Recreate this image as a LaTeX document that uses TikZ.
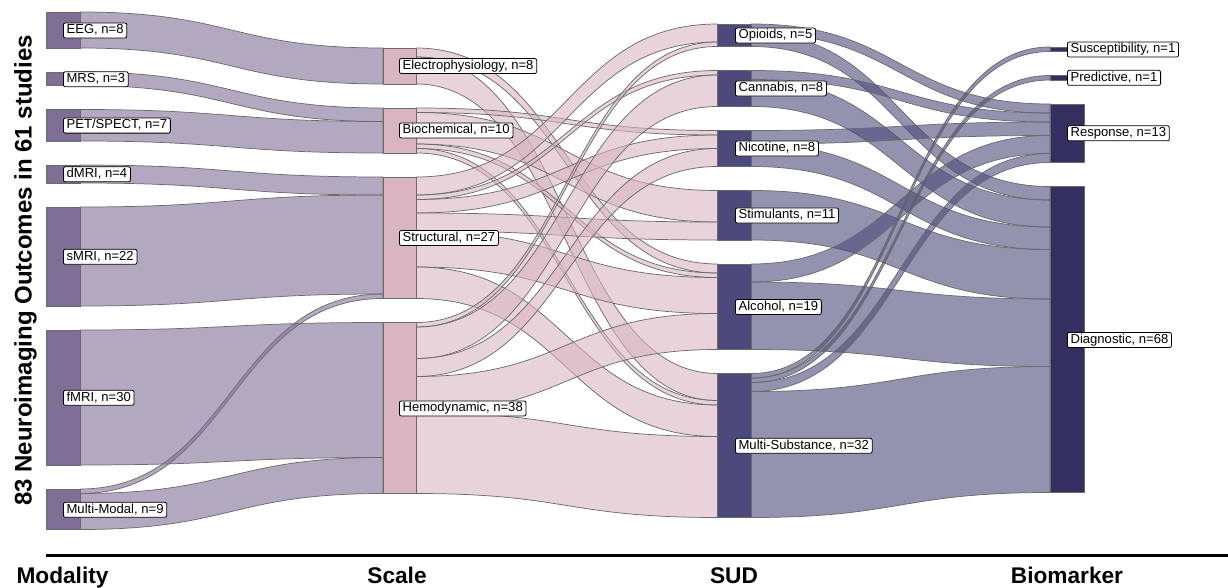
\documentclass[tikz,border=0pt]{standalone}
\usepackage{fontspec}
\setmainfont{Liberation Sans}
\definecolor{cmod}{HTML}{7F6F96}
\definecolor{cscl}{HTML}{D8B5C1}
\definecolor{csud}{HTML}{4B4A7A}
\definecolor{cbio}{HTML}{352F5F}
\definecolor{cedge}{HTML}{6B6B6B}
\tikzset{
  flow/.style={draw=cedge, line width=0.55pt, fill opacity=0.6},
  bar/.style={draw=cedge, line width=0.55pt},
  lab/.style={draw=black, fill=white, rounded corners=1.5pt, line width=0.6pt,
    font=\fontsize{9.8}{11}\selectfont, anchor=west, inner xsep=2.4pt, inner ysep=1pt,
    text height=7.2pt, text depth=2.1pt},
  axlab/.style={font=\bfseries\fontsize{17}{20}\selectfont, anchor=base}
}
\newcommand{\skflow}[7]{%
  \pgfmathsetmacro{\skm}{(#1+#2)/2}%
  \filldraw[flow, fill=#7] (#1,#3) .. controls (\skm,#3) and (\skm,#5) .. (#2,#5) -- (#2,#6) .. controls (\skm,#6) and (\skm,#4) .. (#1,#4) -- cycle;}
\newcommand{\skA}[4]{\skflow{80}{383}{#1}{#2}{#3}{#4}{cmod}}
\newcommand{\skB}[4]{\skflow{416}{717.5}{#1}{#2}{#3}{#4}{cscl}}
\newcommand{\skC}[4]{\skflow{751.5}{1050}{#1}{#2}{#3}{#4}{csud}}
\begin{document}
\begin{tikzpicture}[x=0.75pt,y=-0.75pt]
\useasboundingbox (0,0) rectangle (1228,588);
% ---- Modality -> Scale
\skA{12}{48}{48}{84}
\skA{72}{85.5}{108}{121.5}
\skA{109.5}{141}{121.5}{153}
\skA{165}{183}{177}{195}
\skA{207}{306}{195}{294}
\skA{489}{493.5}{294}{298.5}
\skA{330}{465}{322.5}{457.5}
\skA{493.5}{529.5}{457.5}{493.5}
% ---- Scale -> SUD
% Electrophysiology
\skB{48}{57}{264}{273}
\skB{57}{84}{373.5}{400.5}
% Biochemical
\skB{108}{112.5}{130.5}{135}
\skB{112.5}{144}{190.5}{222}
\skB{144}{148.5}{273}{277.5}
\skB{148.5}{153}{400.5}{405}
% Structural
\skB{177}{195}{24}{42}
\skB{195}{199.5}{70.5}{75}
\skB{199.5}{213}{135}{148.5}
\skB{213}{231}{222}{240}
\skB{231}{267}{277.5}{313.5}
\skB{267}{298.5}{405}{436.5}
% Hemodynamic
\skB{322.5}{327}{42}{46.5}
\skB{327}{358.5}{75}{106.5}
\skB{358.5}{376.5}{148.5}{166.5}
\skB{376.5}{412.5}{313.5}{349.5}
\skB{412.5}{493.5}{436.5}{517.5}
% ---- SUD -> Biomarker
\skC{24}{33}{104}{113}
\skC{33}{46.5}{186.5}{200}
\skC{70.5}{79.5}{113}{122}
\skC{79.5}{106.5}{200}{227}
\skC{130.5}{144}{122}{135.5}
\skC{144}{166.5}{227}{249.5}
\skC{190.5}{240}{249.5}{299}
\skC{264}{282}{135.5}{153.5}
\skC{282}{349.5}{299}{366.5}
\skC{373.5}{378}{47}{51.5}
\skC{378}{382.5}{75.5}{80}
\skC{382.5}{391.5}{153.5}{162.5}
\skC{391.5}{517.5}{366.5}{492.5}
% ---- bars
\filldraw[bar, fill=cmod] (46,12) rectangle (80,48);
\filldraw[bar, fill=cmod] (46,72) rectangle (80,85.5);
\filldraw[bar, fill=cmod] (46,109.5) rectangle (80,141);
\filldraw[bar, fill=cmod] (46,165) rectangle (80,183);
\filldraw[bar, fill=cmod] (46,207) rectangle (80,306);
\filldraw[bar, fill=cmod] (46,330) rectangle (80,465);
\filldraw[bar, fill=cmod] (46,489) rectangle (80,529.5);
\filldraw[bar, fill=cscl] (383,48) rectangle (416,84);
\filldraw[bar, fill=cscl] (383,108) rectangle (416,153);
\filldraw[bar, fill=cscl] (383,177) rectangle (416,298.5);
\filldraw[bar, fill=cscl] (383,322.5) rectangle (416,493.5);
\filldraw[bar, fill=csud] (717.5,24) rectangle (751.5,46.5);
\filldraw[bar, fill=csud] (717.5,70.5) rectangle (751.5,106.5);
\filldraw[bar, fill=csud] (717.5,130.5) rectangle (751.5,166.5);
\filldraw[bar, fill=csud] (717.5,190.5) rectangle (751.5,240);
\filldraw[bar, fill=csud] (717.5,264) rectangle (751.5,349.5);
\filldraw[bar, fill=csud] (717.5,373.5) rectangle (751.5,517.5);
\filldraw[bar, fill=cbio] (1050,47) rectangle (1084,51.5);
\filldraw[bar, fill=cbio] (1050,75.5) rectangle (1084,80);
\filldraw[bar, fill=cbio] (1050,104) rectangle (1084,162.5);
\filldraw[bar, fill=cbio] (1050,186.5) rectangle (1084,492.5);
% ---- labels
\node[lab] (leeg) at (63,30.5) {EEG, n=8};
\node[lab] (lmrs) at (63,79.3) {MRS, n=3};
\node[lab] (lpet) at (63,125.6) {PET/SPECT, n=7};
\node[lab] (ldmri) at (63,174.3) {dMRI, n=4};
\node[lab] (lsmri) at (63,256.8) {sMRI, n=22};
\node[lab] (lfmri) at (63,397.8) {fMRI, n=30};
\node[lab] (lmm) at (63,509.8) {Multi-Modal, n=9};
\node[lab] (lele) at (399,66) {Electrophysiology, n=8};
\node[lab] (lbio) at (399,130.5) {Biochemical, n=10};
\node[lab] (lstr) at (399,238) {Structural, n=27};
\node[lab] (lhem) at (399,408.5) {Hemodynamic, n=38};
\node[lab] (lopi) at (735,35.5) {Opioids, n=5};
\node[lab] (lcan) at (735,88.5) {Cannabis, n=8};
\node[lab] (lnic) at (735,148.5) {Nicotine, n=8};
\node[lab] (lsti) at (735,215.5) {Stimulants, n=11};
\node[lab] (lalc) at (735,307) {Alcohol, n=19};
\node[lab] (lms) at (735,445.8) {Multi-Substance, n=32};
\node[lab] (lsus) at (1067,49.5) {Susceptibility, n=1};
\node[lab] (lpre) at (1067,77.8) {Predictive, n=1};
\node[lab] (lres) at (1067,133.3) {Response, n=13};
\node[lab] (ldia) at (1067,340) {Diagnostic, n=68};
% ---- axes
\node[rotate=90, anchor=base, font=\bfseries\fontsize{18}{21}\selectfont] (ytitle) at (31.5,270.5) {83 Neuroimaging Outcomes in 61 studies};
\coordinate (axl) at (46,555.5);
\coordinate (axr) at (1228,555.5);
\draw[line width=1.6pt] (axl) -- (axr);
\node[axlab] (amod) at (62.5,583.3) {Modality};
\node[axlab] (ascl) at (397,583.3) {Scale};
\node[axlab] (asud) at (734,583.3) {SUD};
\node[axlab] (abio) at (1067,583.3) {Biomarker};
\end{tikzpicture}
\end{document}
